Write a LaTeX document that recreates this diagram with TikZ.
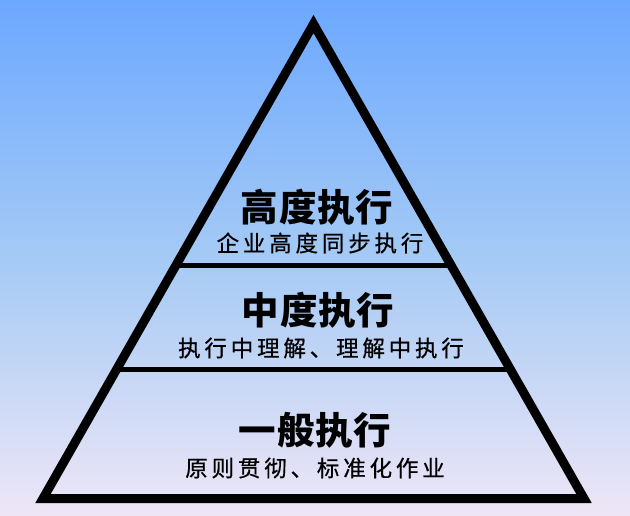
\documentclass[tikz,border=0pt]{standalone}
\usepackage{fontspec}
\usetikzlibrary{calc}
\newfontfamily\cjk{Noto Sans CJK SC}
\definecolor{bgtop}{RGB}{108,168,255}
\definecolor{bgmid}{RGB}{165,202,245}
\definecolor{bgbot}{RGB}{238,230,246}
\tikzset{
  title/.style={font=\cjk\bfseries\fontsize{37.5}{42}\selectfont\addfontfeature{LetterSpace=2}, inner sep=0pt},
  subtitle/.style={font=\cjk\fontsize{22.5}{26}\selectfont\addfontfeature{LetterSpace=17,FakeBold=0.6}, inner sep=0pt},
  edge/.style={line width=9pt, line join=miter, draw=black},
  divider/.style={line width=5pt, draw=black}
}
\begin{document}
\begin{tikzpicture}[x=1pt,y=-1pt]
\useasboundingbox (0,0) rectangle (630,516);
\shade[top color=bgtop, bottom color=bgbot, middle color=bgmid] (0,0) rectangle (630,516);
\coordinate (A) at (313.5,24);
\coordinate (BL) at (43,498.5);
\coordinate (BR) at (584,498.5);
\coordinate (d1l) at ($(A)!0.508!(BL)$);
\coordinate (d1r) at ($(A)!0.508!(BR)$);
\coordinate (d2l) at ($(A)!0.729!(BL)$);
\coordinate (d2r) at ($(A)!0.729!(BR)$);
\draw[divider] (d1l) -- (d1r);
\draw[divider] (d2l) -- (d2r);
\draw[edge] (A) -- (BL) -- (BR) -- cycle;
\node[title] (t1) at (317,207) {高度执行};
\node[subtitle] (s1) at (320,243) {企业高度同步执行};
\node[title] (t2) at (318,310) {中度执行};
\node[subtitle] (s2) at (321,348) {执行中理解、理解中执行};
\node[title] (t3) at (315,430) {一般执行};
\node[subtitle] (s3) at (315,468) {原则贯彻、标准化作业};
\end{tikzpicture}
\end{document}
